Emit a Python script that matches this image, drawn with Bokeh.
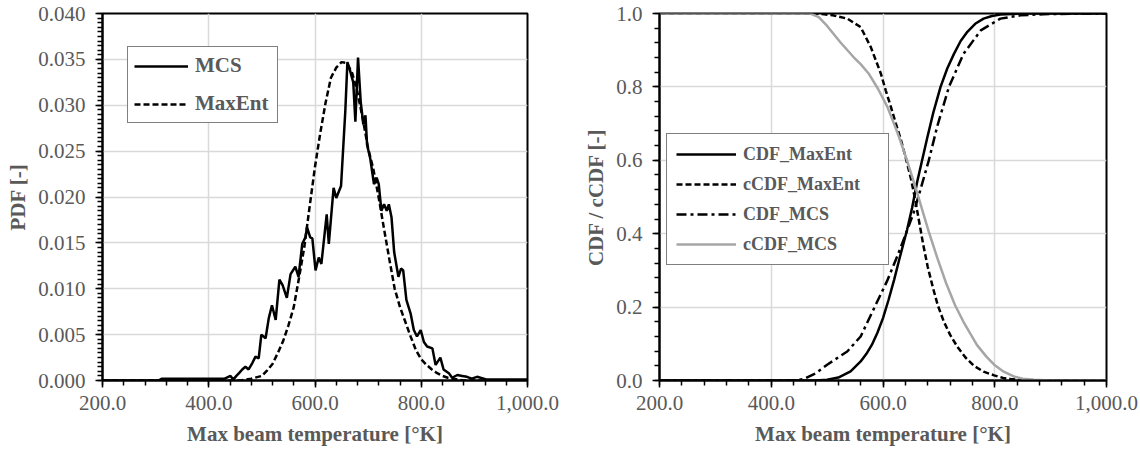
from bokeh.plotting import figure
from bokeh.models import (Range1d, SingleIntervalTicker, NumeralTickFormatter,
                          Legend, LegendItem)
from bokeh.layouts import row
from bokeh.embed import file_html
from bokeh.resources import INLINE

FONT = "Liberation Serif"
TXT = "#595959"

# ---------------- data: left chart (PDF) ----------------
mcs_temp = [200, 305, 312, 430, 441, 446, 452, 457, 463, 469, 475, 482, 488, 494,
            499, 507, 513, 519, 526, 533, 539, 547, 554, 563, 569, 576, 582, 585,
            591, 595, 601, 607, 612, 622, 626, 635, 640, 649, 657, 661, 665, 672,
            676, 681, 686, 691, 695, 698, 704, 711, 716, 720, 725, 730, 735, 739,
            744, 749, 757, 762, 766, 772, 780, 786, 792, 799, 805, 811, 821, 827,
            836, 842, 852, 858, 868, 877, 886, 895, 905, 924, 1000]
mcs_pdf = [0, 0, 0.0002, 0.0002, 0.0005, 0.0001, 0.0005, 0.0008, 0.0012, 0.0015,
           0.0012, 0.0019, 0.0026, 0.0024, 0.0050, 0.0046, 0.0068, 0.0082, 0.0066,
           0.0110, 0.0104, 0.0090, 0.0116, 0.0124, 0.0113, 0.0149, 0.0156, 0.0167,
           0.0156, 0.0155, 0.0120, 0.0134, 0.0127, 0.0181, 0.0149, 0.0210, 0.0199,
           0.0212, 0.0293, 0.0347, 0.0340, 0.0325, 0.0282, 0.0352, 0.0304, 0.0279,
           0.0289, 0.0257, 0.0242, 0.0214, 0.0221, 0.0214, 0.0185, 0.0192, 0.0185,
           0.0192, 0.0178, 0.0140, 0.0113, 0.0122, 0.0120, 0.0088, 0.0073, 0.0055,
           0.0048, 0.0055, 0.0042, 0.0037, 0.0035, 0.0017, 0.0025, 0.0012, 0.0008,
           0.0003, 0.0006, 0.0005, 0.0004, 0.0002, 0.0004, 0.0001, 0.0001]

maxent_temp = [200, 460, 480, 500, 510, 520, 530, 540, 550, 560, 570, 580, 590, 600,
               610, 620, 630, 640, 650, 660, 670, 680, 690, 700, 710, 720, 730, 740,
               750, 760, 770, 780, 790, 800, 810, 820, 830, 840, 850, 860, 870, 880,
               1000]
maxent_pdf = [0, 0, 0.0002, 0.0005, 0.0011, 0.0018, 0.0030, 0.0043, 0.0060, 0.0080,
              0.0112, 0.0146, 0.0190, 0.0233, 0.0270, 0.0303, 0.0330, 0.0341, 0.0347,
              0.0346, 0.0335, 0.0314, 0.0285, 0.0253, 0.0230, 0.0199, 0.0165, 0.0132,
              0.0100, 0.0080, 0.0064, 0.0048, 0.0033, 0.0023, 0.0017, 0.0012, 0.0008,
              0.0005, 0.0003, 0.0002, 0.0001, 0, 0]

# ---------------- data: right chart (CDF / cCDF) ----------------
cdf_me_temp = [200, 480, 500, 520, 542, 560, 570, 580, 590, 600, 610, 620, 630, 643,
               652, 661, 670, 679, 690, 703, 715, 727, 739, 751, 765, 780, 795, 810,
               850, 1000]
cdf_me = [0, 0, 0.002, 0.008, 0.025, 0.052, 0.072, 0.097, 0.13, 0.17, 0.22, 0.275,
          0.335, 0.41, 0.47, 0.54, 0.60, 0.66, 0.73, 0.80, 0.85, 0.89, 0.925, 0.95,
          0.972, 0.986, 0.993, 0.997, 1.0, 1.0]

ccdf_me_temp = [200, 476, 495, 510, 536, 560, 578, 596, 605, 614, 623, 632, 641, 650,
                658, 665, 672, 680, 689, 698, 709, 720, 733, 748, 763, 780, 799, 815,
                828, 845, 870, 900, 1000]
ccdf_me = [1.0, 1.0, 0.998, 0.995, 0.986, 0.963, 0.909, 0.837, 0.79, 0.746, 0.70,
           0.656, 0.605, 0.55, 0.49, 0.43, 0.37, 0.31, 0.255, 0.205, 0.16, 0.125,
           0.092, 0.062, 0.04, 0.024, 0.014, 0.007, 0.004, 0.002, 0.0005, 0, 0]

cdf_mcs_temp = [200, 440, 458, 480, 500, 536, 560, 585, 607, 626, 641, 655, 667, 682,
                697, 718, 744, 775, 810, 846, 887, 950, 1000]
cdf_mcs = [0, 0, 0.004, 0.02, 0.043, 0.079, 0.12, 0.20, 0.27, 0.34, 0.40, 0.458,
           0.52, 0.60, 0.692, 0.80, 0.89, 0.954, 0.986, 0.995, 0.998, 1.0, 1.0]

ccdf_mcs_temp = [200, 470, 485, 500, 524, 548, 560, 575, 591, 608, 626, 643, 661, 682,
                 697, 713, 729, 744, 768, 785, 799, 816, 834, 850, 870, 900, 1000]
ccdf_mcs = [1.0, 1.0, 0.99, 0.966, 0.921, 0.880, 0.862, 0.835, 0.795, 0.745, 0.675,
            0.60, 0.512, 0.405, 0.335, 0.265, 0.205, 0.16, 0.097, 0.065, 0.043,
            0.024, 0.011, 0.005, 0.002, 0, 0]

x_title = "Max beam temperature [°K]"


def style(p, y_interval, y_minor, y_fmt, ylabel):
    xt = SingleIntervalTicker(interval=200, num_minor_ticks=5)
    yt = SingleIntervalTicker(interval=y_interval, num_minor_ticks=y_minor)
    p.xaxis.ticker = xt
    p.xgrid.ticker = xt
    p.yaxis.ticker = yt
    p.ygrid.ticker = yt
    p.xaxis.formatter = NumeralTickFormatter(format="0,0.0")
    p.yaxis.formatter = NumeralTickFormatter(format=y_fmt)
    for ax in (p.xaxis[0], p.yaxis[0]):
        ax.axis_line_color = "black"
        ax.axis_line_width = 2
        ax.major_tick_line_color = "black"
        ax.major_tick_line_width = 1.5
        ax.minor_tick_line_color = "black"
        ax.minor_tick_line_width = 1.5
        ax.major_tick_out = 7
        ax.major_tick_in = 0
        ax.minor_tick_out = 5
        ax.minor_tick_in = 0
        ax.major_label_text_font = FONT
        ax.major_label_text_font_size = "21px"
        ax.major_label_text_color = TXT
        ax.axis_label_text_font = FONT
        ax.axis_label_text_font_style = "bold"
        ax.axis_label_text_font_size = "21px"
        ax.axis_label_text_color = TXT
    p.xaxis.major_label_standoff = 8
    p.xaxis.axis_label_standoff = 9
    p.yaxis.major_label_standoff = 10
    p.yaxis.axis_label_standoff = 5
    p.xaxis.axis_label = x_title
    p.yaxis.axis_label = ylabel
    p.grid.grid_line_color = "#d9d9d9"
    p.grid.grid_line_width = 1.5
    p.outline_line_color = "black"
    p.outline_line_width = 2
    p.background_fill_color = "white"
    p.border_fill_color = "white"


# ---------------- left figure ----------------
p1 = figure(width=570, height=448, output_backend="svg", toolbar_location=None,
            x_range=Range1d(200, 1000), y_range=Range1d(0, 0.04),
            min_border_left=102, min_border_right=43, min_border_top=11,
            min_border_bottom=67)
style(p1, 0.005, 10, "0.000", "PDF [-]")
r_mcs = p1.line(mcs_temp, mcs_pdf, line_color="black", line_width=2.5)
r_me = p1.line(maxent_temp, maxent_pdf, line_color="black", line_width=2.5,
               line_dash="6 3")
leg1 = Legend(items=[LegendItem(label="MCS", renderers=[r_mcs]),
                     LegendItem(label="MaxEnt", renderers=[r_me])],
              location=(25, 257), padding=6, spacing=13, margin=0,
              glyph_width=54, glyph_height=24, label_height=24, label_width=76,
              label_standoff=7, border_line_color="black", border_line_width=1.5,
              background_fill_color="white", background_fill_alpha=1.0,
              label_text_font=FONT, label_text_font_style="bold",
              label_text_font_size="21px", label_text_color=TXT)
p1.add_layout(leg1)

# ---------------- right figure ----------------
p2 = figure(width=568, height=448, output_backend="svg", toolbar_location=None,
            x_range=Range1d(200, 1000), y_range=Range1d(0, 1.0),
            min_border_left=89, min_border_right=32, min_border_top=13,
            min_border_bottom=66)
style(p2, 0.2, 5, "0.0", "CDF / cCDF [-]")
r1 = p2.line(cdf_me_temp, cdf_me, line_color="black", line_width=2.5)
r2 = p2.line(ccdf_me_temp, ccdf_me, line_color="black", line_width=2.5,
             line_dash="6 3")
r3 = p2.line(cdf_mcs_temp, cdf_mcs, line_color="black", line_width=2.5,
             line_dash="10 4 3 4")
r4 = p2.line(ccdf_mcs_temp, ccdf_mcs, line_color="#a6a6a6", line_width=2.5)
leg2 = Legend(items=[LegendItem(label="CDF_MaxEnt", renderers=[r1]),
                     LegendItem(label="cCDF_MaxEnt", renderers=[r2]),
                     LegendItem(label="CDF_MCS", renderers=[r3]),
                     LegendItem(label="cCDF_MCS", renderers=[r4])],
              location=(7, 115), padding=9, spacing=8, margin=0,
              glyph_width=60, glyph_height=22, label_height=22, label_width=136,
              label_standoff=7, border_line_color="black", border_line_width=1.5,
              background_fill_color="white", background_fill_alpha=1.0,
              label_text_font=FONT, label_text_font_style="bold",
              label_text_font_size="18px", label_text_color=TXT)
p2.add_layout(leg2)

layout = row(p1, p2)
open("out.html", "w").write(file_html(layout, INLINE))
